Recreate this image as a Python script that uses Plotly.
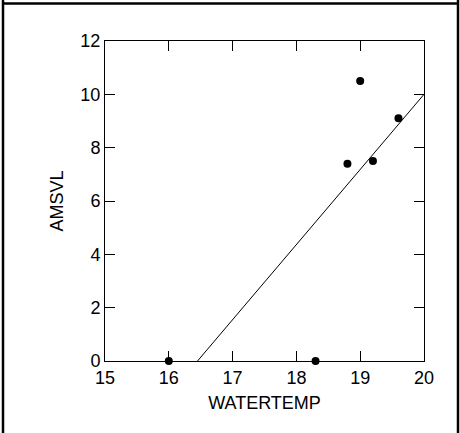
import plotly.graph_objects as go

# Data
water_temp = [16.0, 18.3, 18.8, 19.0, 19.2, 19.6]
amsvl = [0.0, 0.0, 7.4, 10.5, 7.5, 9.1]
fit_x = [16.45, 20.0]
fit_y = [0.0, 10.0]
x_ticks = [15, 16, 17, 18, 19, 20]
y_ticks = [0, 2, 4, 6, 8, 10, 12]

W, H = 460, 433
L, R, T, B = 105, 36, 41, 72
pw, ph = W - L - R, H - T - B

def px_x(p):
    return (p - L) / pw

def px_y(p):
    return (H - B - p) / ph

fig = go.Figure()
fig.add_trace(go.Scatter(x=fit_x, y=fit_y, mode="lines",
                         line=dict(color="black", width=1), showlegend=False,
                         cliponaxis=False))
fig.add_trace(go.Scatter(x=water_temp, y=amsvl, mode="markers",
                         marker=dict(color="black", size=8), showlegend=False,
                         cliponaxis=False))

font = dict(family="Arial, Liberation Sans, sans-serif", size=18, color="black")

bx0, bx1, by0, by1 = px_x(3), px_x(458), px_y(445), px_y(3.5)
border = dict(type="line", xref="paper", yref="paper",
              line=dict(color="black", width=2.5), layer="above")
shapes = [
    dict(border, x0=bx0, x1=bx1, y0=by1, y1=by1),
    dict(border, x0=bx0, x1=bx0, y0=by0, y1=px_y(0)),
    dict(border, x0=bx1, x1=bx1, y0=by0, y1=px_y(0)),
]

fig.update_layout(
    width=W, height=H,
    margin=dict(l=L, r=R, t=T, b=B),
    paper_bgcolor="white", plot_bgcolor="white",
    font=font,
    xaxis=dict(range=[15, 20], tickvals=x_ticks, ticks="inside", ticklen=10,
               tickcolor="black", tickwidth=1, showline=True, linecolor="black",
               linewidth=1, mirror="ticks", showgrid=False, zeroline=False,
               title=dict(text="WATERTEMP", font=font, standoff=9),
               tickfont=font),
    yaxis=dict(range=[0, 12], tickvals=y_ticks, ticks="inside", ticklen=10,
               tickcolor="black", tickwidth=1, showline=True, linecolor="black",
               linewidth=1, mirror="ticks", showgrid=False, zeroline=False,
               title=dict(text="AMSVL", font=font, standoff=12),
               tickfont=font),
    shapes=shapes,
)

fig.write_html("out.html", config={"displayModeBar": False},
               post_script="document.body.style.margin='0';document.body.style.overflow='hidden';")
